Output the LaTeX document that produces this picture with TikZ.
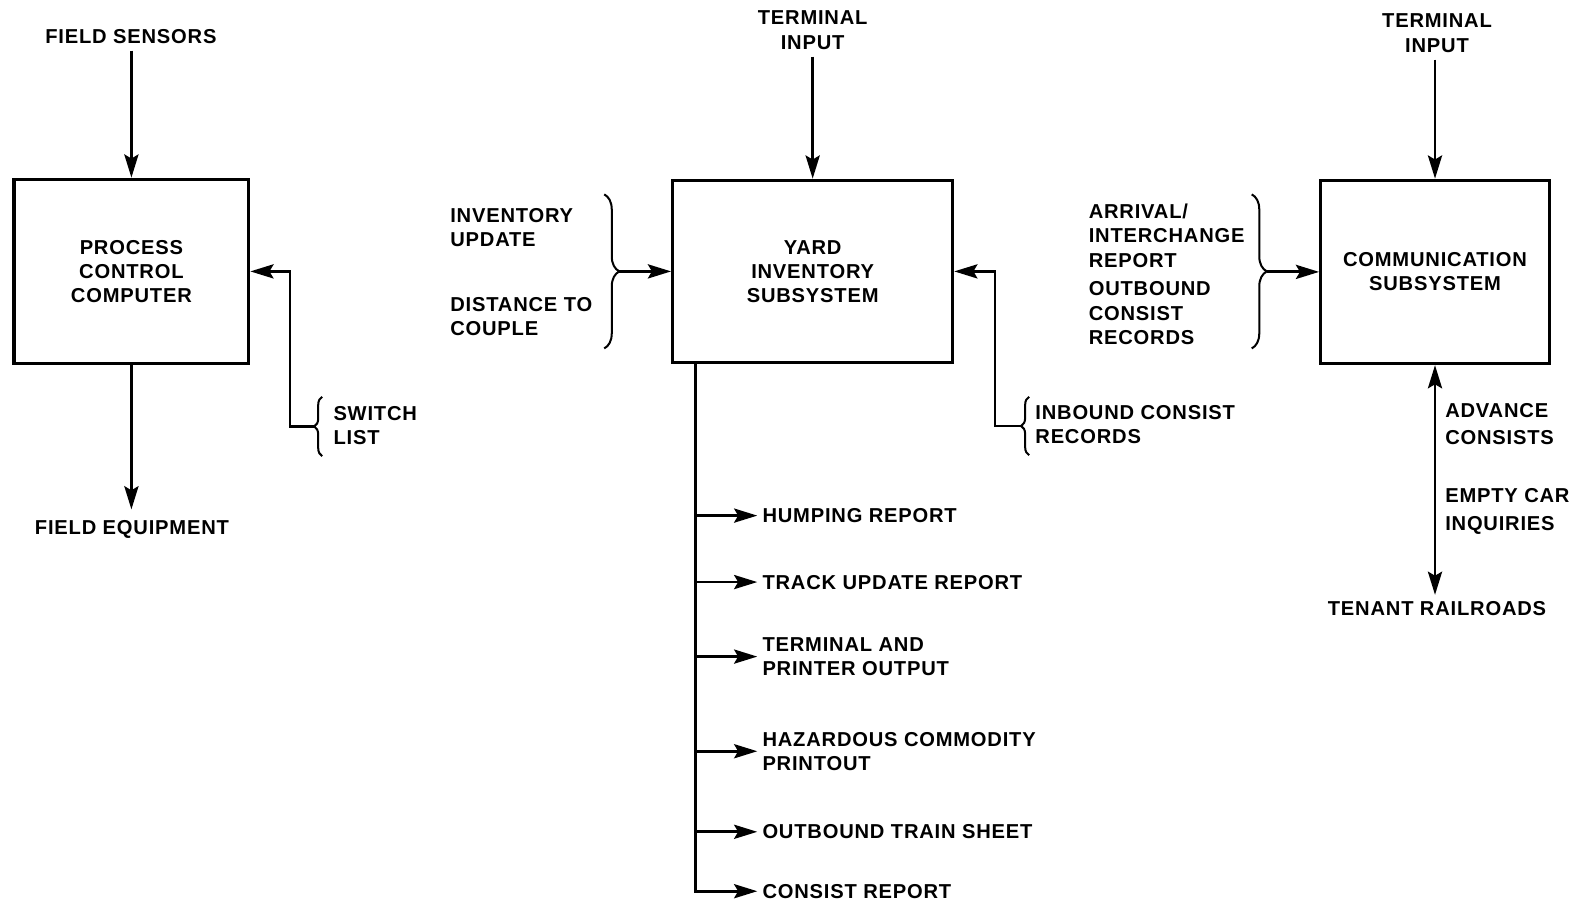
\documentclass[tikz,border=0pt]{standalone}
\usepackage{fontspec}
\setmainfont{Liberation Sans}[LetterSpace=4]
\usetikzlibrary{arrows.meta,decorations.pathreplacing}
\begin{document}
\begin{tikzpicture}[x=1pt,y=-1pt,
  lbl/.style={font=\fontsize{20}{24}\selectfont\bfseries, inner sep=2pt, align=left},
  clbl/.style={lbl, align=center},
  sysbox/.style={draw, line width=3.2pt, inner sep=0pt, clbl},
  arr/.style={line width=2.8pt, -{Stealth[length=23pt,width=14pt,inset=4pt]}},
  link/.style={line width=2.8pt},
  curly/.style={line width=2pt, decorate, decoration={brace, amplitude=#1}},
]
\useasboundingbox (0,0) rectangle (1568,898);

% ---------- process control computer ----------
\node[sysbox, minimum width=233pt, minimum height=183pt] (pcc) at (130.5,269.5) {PROCESS\\CONTROL\\COMPUTER};
\node[clbl] (fs) at (130,36) {FIELD SENSORS};
\node[clbl] (fe) at (131,526) {FIELD EQUIPMENT};
\draw[arr, shorten <=5pt] (fs.south -| pcc.north) -- (pcc.north);
\draw[arr, shorten >=9pt] (pcc.south) -- (pcc.south |- fe.north);

\node[lbl, anchor=west] (sw) at (329,423) {SWITCH\\LIST};
\draw[curly=8pt] (320,453) -- (320,394);
\coordinate (swtip) at (312,423.5);
\coordinate (swknee) at (288,269.5);
\draw[arr] (swtip) -| (swknee) -- (pcc.east);

% ---------- yard inventory subsystem ----------
\node[sysbox, minimum width=278pt, minimum height=181pt] (yis) at (807,269.5) {YARD\\INVENTORY\\SUBSYSTEM};
\node[clbl] (ti1) at (807,30) {TERMINAL\\INPUT};
\draw[arr, shorten <=5pt] (ti1.south -| yis.north) -- (yis.north);

\node[lbl, anchor=west] (invup) at (445,226) {INVENTORY\\UPDATE};
\node[lbl, anchor=west] (dist) at (445,314) {DISTANCE TO\\COUPLE};
\draw[curly=15pt] (600,193) -- (600,346);
\coordinate (ytip) at (615,269.5);
\draw[arr] (ytip) -- (yis.west);

\node[lbl, anchor=west] (inb) at (1026,422) {INBOUND CONSIST\\RECORDS};
\draw[curly=8pt] (1022,452) -- (1022,394);
\coordinate (itip) at (1014,423);
\coordinate (iknee) at (988,269.5);
\draw[arr] (itip) -| (iknee) -- (yis.east);

% output reports
\coordinate (trunk) at (691,0);
\node[lbl, anchor=west] (hump) at (755,512) {HUMPING REPORT};
\node[lbl, anchor=west] (track) at (755,578) {TRACK UPDATE REPORT};
\node[lbl, anchor=west] (tpo) at (755,652) {TERMINAL AND\\PRINTER OUTPUT};
\node[lbl, anchor=west] (haz) at (755,746) {HAZARDOUS COMMODITY\\PRINTOUT};
\node[lbl, anchor=west] (outb) at (755,826) {OUTBOUND TRAIN SHEET};
\node[lbl, anchor=west] (cons) at (755,885) {CONSIST REPORT};
\draw[arr, shorten >=3pt] (yis.south -| trunk) |- (cons.west);
\foreach \n in {hump,track,tpo,haz,outb}
  \draw[arr, shorten >=3pt] (trunk |- \n.west) -- (\n.west);

% ---------- communication subsystem ----------
\node[sysbox, minimum width=227pt, minimum height=182pt] (comm) at (1425,270) {COMMUNICATION\\SUBSYSTEM};
\node[clbl] (ti2) at (1427,33) {TERMINAL\\INPUT};
\draw[arr, shorten <=5pt] (ti2.south -| comm.north) -- (comm.north);

\node[lbl, anchor=west] (arrv) at (1079,234) {ARRIVAL/\\INTERCHANGE\\REPORT};
\node[lbl, anchor=west] (outc) at (1079,311) {OUTBOUND\\CONSIST\\RECORDS};
\draw[curly=15pt] (1243,193) -- (1243,346);
\coordinate (ctip) at (1258,270);
\draw[arr] (ctip) -- (comm.west);

\node[clbl] (ten) at (1427,604) {TENANT RAILROADS};
\draw[link, {Stealth[length=23pt,width=14pt,inset=4pt]}-{Stealth[length=23pt,width=14pt,inset=4pt]}, shorten >=4pt]
  (comm.south) -- (comm.south |- ten.north);
\node[lbl, anchor=west] (adv) at (1433,421) {ADVANCE\\[3pt]CONSISTS};
\node[lbl, anchor=west] (empty) at (1433,508) {EMPTY CAR\\[4pt]INQUIRIES};
\end{tikzpicture}
\end{document}
